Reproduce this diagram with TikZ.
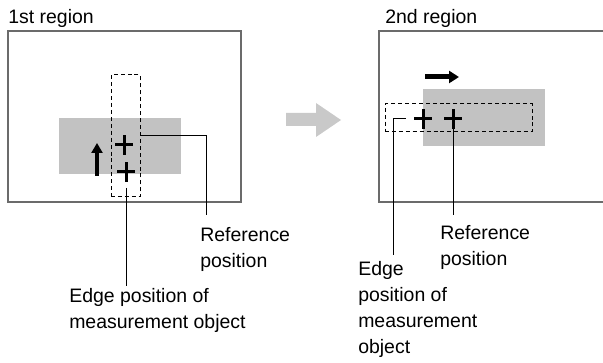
\documentclass[tikz,border=0pt]{standalone}
\usepackage{fontspec}
\setmainfont{Liberation Sans}
\usetikzlibrary{positioning,arrows.meta}
\definecolor{framegray}{gray}{0.42}
\definecolor{objgray}{gray}{0.76}
\definecolor{movegray}{gray}{0.79}

\begin{document}
\begin{tikzpicture}[x=0.75pt, y=-0.75pt,
  txt/.style={anchor=north west, inner sep=0pt, align=left, font=\fontsize{14.6}{19.5}\selectfont},
  regionframe/.style={draw=framegray, line width=1.9pt},
  window/.style={draw, dashed, dash pattern=on 3pt off 2.2pt, line width=0.75pt, inner sep=0pt},
  crossmark/.style={minimum width=13.5pt, minimum height=14.5pt, inner sep=0pt, path picture={\draw[line width=2.25pt] (path picture bounding box.north) -- (path picture bounding box.south) (path picture bounding box.west) -- (path picture bounding box.east);}},
  leader/.style={draw, line width=0.75pt}]
\useasboundingbox (0,0) rectangle (603,363);
\node[txt] (t1) at (8,9) {1st region};
\node[txt] (t2) at (385,9) {2nd region};
\draw[regionframe] (8,31) rectangle (241,202);
\draw[regionframe] (603,31) -- (379,31) -- (379,202) -- (603,202);
\fill[objgray] (59,118) rectangle (181,174);
\fill[objgray] (423,89) rectangle (545,146);
\fill[movegray] (286,113) -- (316,113) -- (316,103) -- (341,120) -- (316,137) -- (316,126) -- (286,126) -- cycle;
\node[window, minimum width=21.75pt, minimum height=91.5pt] (w1) at (125.5,136) {};
\node[window, minimum width=110.25pt, minimum height=21pt] (w2) at (458.5,118) {};
\node[crossmark] (p1) at (124,145) {};
\node[crossmark] (p2) at (126,172) {};
\node[crossmark] (p3) at (423,119) {};
\node[crossmark] (p4) at (453,119) {};
\draw[-{Triangle[width=8.25pt,length=7.5pt]}, line width=3pt] (97,176) -- (97,143);
\draw[-{Triangle[width=9pt,length=7.5pt]}, line width=3.75pt] (425,77) -- (459,77);
\node[txt] (r1) at (200,227) {Reference\\position};
\node[txt] (e1) at (69,288) {Edge position of\\measurement object};
\node[txt] (r2) at (440,225) {Reference\\position};
\node[txt] (e2) at (358,261) {Edge\\position of\\measurement\\object};
\draw[leader] (w1.east) -| ([xshift=4.5pt,yshift=9pt]r1.north west);
\draw[leader, shorten >=6pt] ([yshift=-4.5pt]p2.south) -- ([yshift=-4.5pt]p2.south |- e1.north);
\draw[leader, shorten >=7.5pt] (p4.center) -- (p4.center |- r2.north);
\draw[leader] ([xshift=-6pt]p3.west) -| ([xshift=26.25pt,yshift=4.5pt]e2.north west);
\end{tikzpicture}
\end{document}
